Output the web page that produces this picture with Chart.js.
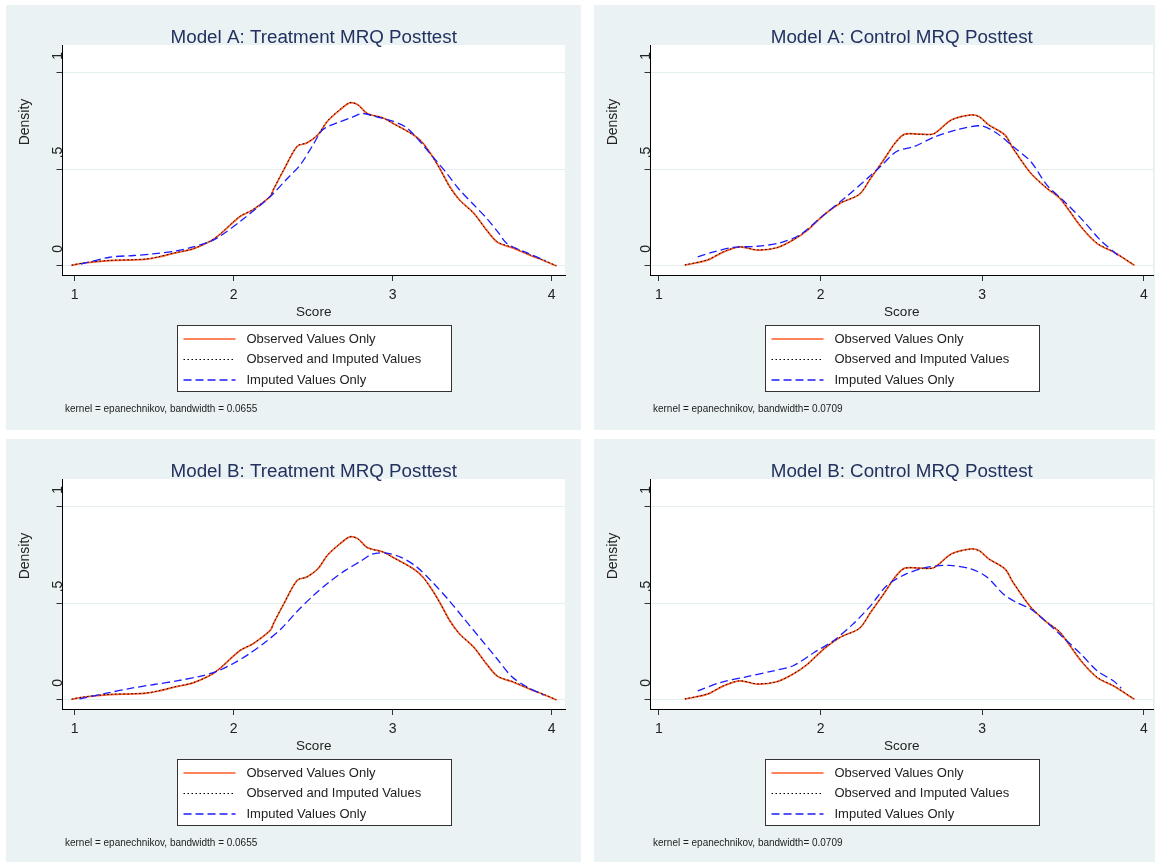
<!DOCTYPE html>
<html lang="en">
<head>
<meta charset="UTF-8" />
<title>MRQ Posttest kernel densities</title>
<script src="https://cdn.jsdelivr.net/npm/chart.js"></script>
<style>
  body { margin: 0; background: #fff; width: 1155px; height: 862px; overflow: hidden; position: relative; }
  .panel { position: absolute; width: 575px; height: 425px; background: #eaf2f3; }
</style>
</head>
<body>
<div class="panel" style="left:6px;top:5px"><canvas id="aTreat" width="575" height="425"></canvas></div>
<div class="panel" style="left:594px;top:5px"><canvas id="aCtrl" width="575" height="425"></canvas></div>
<div class="panel" style="left:6px;top:439px"><canvas id="bTreat" width="575" height="425"></canvas></div>
<div class="panel" style="left:594px;top:439px"><canvas id="bCtrl" width="575" height="425"></canvas></div>
<script>
// axis ticks
const xTicks = [1, 2, 3, 4];
const yTicks = [0, 0.5, 1];
const yTickText = ["0", ".5", "1"];
const seriesNames = ["Observed Values Only", "Observed and Imputed Values", "Imputed Values Only"];

// treatment group: observed values (same in model A and B)
const treatX = [0.98, 1.05, 1.22, 1.37, 1.45, 1.52, 1.64, 1.74, 1.85, 1.91, 2.04, 2.12, 2.23, 2.25, 2.31, 2.40, 2.46, 2.53, 2.59, 2.67, 2.73, 2.78, 2.84, 2.94, 3.00, 3.13, 3.19, 3.25, 3.30, 3.36, 3.42, 3.51, 3.59, 3.66, 3.76, 3.86, 3.95, 4.03];
const treatObs = [0.003, 0.014, 0.028, 0.031, 0.035, 0.045, 0.069, 0.087, 0.126, 0.161, 0.256, 0.29, 0.36, 0.395, 0.49, 0.62, 0.637, 0.68, 0.75, 0.81, 0.845, 0.836, 0.79, 0.767, 0.74, 0.68, 0.637, 0.568, 0.50, 0.41, 0.343, 0.274, 0.187, 0.122, 0.092, 0.057, 0.028, 0.0];
const treatBothA = [0.004, 0.015, 0.029, 0.032, 0.036, 0.046, 0.070, 0.088, 0.128, 0.163, 0.258, 0.292, 0.362, 0.398, 0.492, 0.622, 0.638, 0.682, 0.752, 0.812, 0.846, 0.835, 0.790, 0.767, 0.739, 0.679, 0.636, 0.566, 0.497, 0.407, 0.341, 0.272, 0.186, 0.124, 0.095, 0.059, 0.029, 0.001];
const treatBothB = [0.004, 0.015, 0.029, 0.032, 0.036, 0.046, 0.070, 0.088, 0.127, 0.162, 0.257, 0.291, 0.361, 0.397, 0.491, 0.621, 0.637, 0.681, 0.751, 0.811, 0.845, 0.835, 0.789, 0.766, 0.739, 0.679, 0.636, 0.567, 0.498, 0.408, 0.342, 0.273, 0.187, 0.123, 0.094, 0.058, 0.029, 0.001];

// treatment group: imputed values only
const impATreatX = [1.04, 1.22, 1.37, 1.49, 1.64, 1.74, 1.85, 1.91, 2.04, 2.23, 2.33, 2.42, 2.50, 2.56, 2.65, 2.75, 2.81, 2.90, 3.00, 3.09, 3.17, 3.25, 3.34, 3.42, 3.51, 3.59, 3.66, 3.72, 3.85, 3.96];
const impATreat = [0.010, 0.045, 0.054, 0.062, 0.078, 0.097, 0.126, 0.152, 0.23, 0.36, 0.447, 0.525, 0.629, 0.706, 0.741, 0.772, 0.79, 0.772, 0.75, 0.715, 0.646, 0.568, 0.48, 0.395, 0.317, 0.248, 0.178, 0.115, 0.066, 0.028];
const impBTreatX = [1.03, 1.2, 1.35, 1.5, 1.65, 1.8, 1.9, 2.0, 2.1, 2.2, 2.3, 2.4, 2.5, 2.6, 2.7, 2.8, 2.87, 2.95, 3.05, 3.15, 3.25, 3.35, 3.45, 3.55, 3.65, 3.75, 3.85, 3.95];
const impBTreat = [0.005, 0.035, 0.06, 0.08, 0.10, 0.125, 0.15, 0.19, 0.24, 0.30, 0.37, 0.46, 0.54, 0.61, 0.67, 0.72, 0.755, 0.762, 0.74, 0.69, 0.61, 0.52, 0.42, 0.32, 0.22, 0.12, 0.065, 0.025];

// control group: observed values (same in model A and B)
const ctrlX = [1.16, 1.30, 1.40, 1.50, 1.61, 1.73, 1.83, 1.92, 2.02, 2.12, 2.24, 2.31, 2.39, 2.46, 2.52, 2.62, 2.70, 2.81, 2.93, 2.98, 3.04, 3.14, 3.19, 3.30, 3.40, 3.48, 3.61, 3.71, 3.81, 3.94];
const ctrlObs = [0.004, 0.03, 0.073, 0.099, 0.082, 0.094, 0.134, 0.186, 0.264, 0.324, 0.371, 0.454, 0.549, 0.636, 0.683, 0.683, 0.685, 0.757, 0.783, 0.774, 0.731, 0.679, 0.61, 0.48, 0.402, 0.35, 0.203, 0.116, 0.073, 0.004];
const ctrlBothA = [0.005, 0.032, 0.074, 0.099, 0.083, 0.095, 0.135, 0.187, 0.265, 0.325, 0.372, 0.455, 0.550, 0.636, 0.682, 0.682, 0.684, 0.756, 0.782, 0.773, 0.730, 0.678, 0.609, 0.481, 0.403, 0.352, 0.205, 0.118, 0.074, 0.005];
const ctrlBothB = [0.005, 0.031, 0.074, 0.099, 0.083, 0.095, 0.134, 0.186, 0.264, 0.324, 0.371, 0.455, 0.549, 0.635, 0.682, 0.683, 0.685, 0.756, 0.782, 0.773, 0.731, 0.679, 0.610, 0.482, 0.404, 0.353, 0.205, 0.118, 0.074, 0.005];

// control group: imputed values only
const impACtrlX = [1.24, 1.34, 1.46, 1.61, 1.75, 1.87, 2.02, 2.16, 2.29, 2.37, 2.47, 2.58, 2.70, 2.84, 2.99, 3.09, 3.19, 3.30, 3.40, 3.52, 3.63, 3.73, 3.85];
const impACtrl = [0.047, 0.073, 0.096, 0.102, 0.12, 0.16, 0.264, 0.359, 0.454, 0.515, 0.593, 0.619, 0.667, 0.705, 0.726, 0.688, 0.619, 0.541, 0.419, 0.324, 0.229, 0.134, 0.047];
const impBCtrlX = [1.24, 1.38, 1.54, 1.71, 1.83, 1.96, 2.08, 2.20, 2.31, 2.41, 2.53, 2.66, 2.80, 2.93, 3.03, 3.13, 3.21, 3.30, 3.40, 3.50, 3.61, 3.71, 3.81, 3.86];
const impBCtrl = [0.047, 0.09, 0.12, 0.151, 0.177, 0.246, 0.307, 0.393, 0.489, 0.593, 0.653, 0.688, 0.697, 0.679, 0.636, 0.549, 0.506, 0.471, 0.402, 0.324, 0.238, 0.151, 0.099, 0.061];

const FONT = '"Liberation Sans", Arial, sans-serif';

function pts(xs, ys) {
  return xs.map((x, i) => ({ x: x, y: ys[i] }));
}

// draws the Stata-like decorations: white plot region, titles, rotated y labels, legend, note
const stataDecor = {
  id: "stataDecor",
  beforeDraw(chart) {
    const a = chart.chartArea;
    const ctx = chart.ctx;
    ctx.save();
    ctx.fillStyle = "#fff";
    ctx.fillRect(a.left, a.top, a.right - a.left, a.bottom - a.top);
    ctx.restore();
  },
  afterDraw(chart, args, opts) {
    const ctx = chart.ctx;
    const a = chart.chartArea;
    const cx = (a.left + a.right) / 2;
    const yScale = chart.scales.y;
    ctx.save();

    ctx.fillStyle = "#23315f";
    ctx.font = "18.8px " + FONT;
    ctx.textAlign = "center";
    ctx.textBaseline = "alphabetic";
    ctx.fillText(opts.title, cx, 37.7);

    ctx.fillStyle = "#222";
    ctx.font = "13.5px " + FONT;
    ctx.fillText("Score", cx, 311);

    ctx.font = "14px " + FONT;
    ctx.textBaseline = "middle";
    yTicks.forEach((v, i) => {
      ctx.save();
      ctx.translate(52, yScale.getPixelForValue(v) - 17);
      ctx.rotate(-Math.PI / 2);
      ctx.fillText(yTickText[i], 0, 0);
      ctx.restore();
    });
    ctx.save();
    ctx.translate(19, 117);
    ctx.rotate(-Math.PI / 2);
    ctx.fillText("Density", 0, 0);
    ctx.restore();

    // legend
    const x0 = Math.round(cx - 137) + 0.5;
    ctx.fillStyle = "#fff";
    ctx.fillRect(x0, 320.5, 274, 66);
    ctx.strokeStyle = "#333";
    ctx.lineWidth = 1;
    ctx.setLineDash([]);
    ctx.strokeRect(x0, 320.5, 274, 66);
    const rows = [334, 354.5, 375];
    chart.data.datasets.forEach((ds, i) => {
      ctx.save();
      ctx.strokeStyle = ds.borderColor;
      ctx.lineWidth = ds.borderWidth;
      ctx.setLineDash(ds.borderDash || []);
      ctx.beginPath();
      ctx.moveTo(x0 + 6, rows[i]);
      ctx.lineTo(x0 + 58, rows[i]);
      ctx.stroke();
      ctx.restore();
      ctx.fillStyle = "#222";
      ctx.font = "13px " + FONT;
      ctx.textAlign = "left";
      ctx.fillText(ds.label, x0 + 69, rows[i]);
    });

    // note
    ctx.save();
    ctx.translate(59, 404);
    ctx.scale(0.95, 1);
    ctx.font = "10.5px " + FONT;
    ctx.fillStyle = "#222";
    ctx.textAlign = "left";
    ctx.fillText(opts.note, 0, 0);
    ctx.restore();

    ctx.restore();
  }
};

function makePanel(id, title, note, xMin, xMax, obs, both, imp) {
  new Chart(document.getElementById(id), {
    type: "line",
    data: {
      datasets: [
        { label: seriesNames[0], data: obs, borderColor: "#ff5a26", borderWidth: 1.7, order: 3 },
        { label: seriesNames[1], data: both, borderColor: "#000", borderWidth: 1, borderDash: [1.5, 2.5], order: 2 },
        { label: seriesNames[2], data: imp, borderColor: "#1c1cff", borderWidth: 1.3, borderDash: [8, 4], order: 1 }
      ]
    },
    options: {
      responsive: false,
      animation: false,
      events: [],
      layout: { padding: { top: 40, right: 16, left: 0, bottom: 0 } },
      elements: { point: { radius: 0 }, line: { tension: 0.3, fill: false } },
      plugins: {
        legend: { display: false },
        tooltip: { enabled: false },
        stataDecor: { title: title, note: note }
      },
      scales: {
        x: {
          type: "linear",
          min: xMin,
          max: xMax,
          afterBuildTicks: (s) => { s.ticks = xTicks.map((v) => ({ value: v })); },
          afterFit: (s) => { s.height = 155; },
          grid: { drawOnChartArea: false, drawTicks: true, tickLength: 6, tickColor: "#333" },
          border: { color: "#000", width: 1 },
          ticks: { color: "#222", padding: 6, maxRotation: 0, autoSkip: false, font: { family: FONT, size: 14 }, callback: (v) => String(v) }
        },
        y: {
          type: "linear",
          min: -0.047,
          max: 1.145,
          afterBuildTicks: (s) => { s.ticks = yTicks.map((v) => ({ value: v })); },
          afterFit: (s) => { s.width = 56.5; },
          grid: { color: "#e4eef0", drawTicks: true, tickLength: 6, tickColor: "#333" },
          border: { color: "#000", width: 1 },
          ticks: { display: false }
        }
      }
    },
    plugins: [stataDecor]
  });
}

const noteT = "kernel = epanechnikov, bandwidth = 0.0655";
const noteC = "kernel = epanechnikov, bandwidth= 0.0709";

makePanel("aTreat", "Model A: Treatment MRQ Posttest", noteT, 0.923, 4.084,
  pts(treatX, treatObs), pts(treatX, treatBothA), pts(impATreatX, impATreat));
makePanel("aCtrl", "Model A: Control MRQ Posttest", noteC, 0.948, 4.056,
  pts(ctrlX, ctrlObs), pts(ctrlX, ctrlBothA), pts(impACtrlX, impACtrl));
makePanel("bTreat", "Model B: Treatment MRQ Posttest", noteT, 0.923, 4.084,
  pts(treatX, treatObs), pts(treatX, treatBothB), pts(impBTreatX, impBTreat));
makePanel("bCtrl", "Model B: Control MRQ Posttest", noteC, 0.948, 4.056,
  pts(ctrlX, ctrlObs), pts(ctrlX, ctrlBothB), pts(impBCtrlX, impBCtrl));
</script>
</body>
</html>
